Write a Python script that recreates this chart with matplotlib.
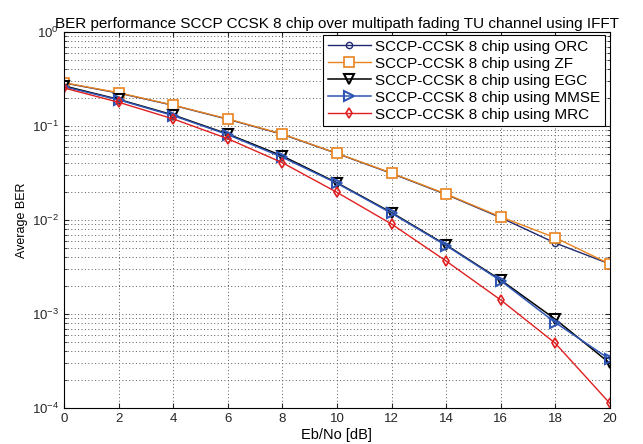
import matplotlib
matplotlib.use("Agg")
import matplotlib.pyplot as plt
import numpy as np

plt.rcParams['font.family'] = ['Liberation Sans', 'DejaVu Sans']

# Eb/No points
ebno = [0, 2, 4, 6, 8, 10, 12, 14, 16, 18, 20]

# BER values
ber_orc = [0.287, 0.224, 0.166, 0.118, 0.0815, 0.0510, 0.0313, 0.0187, 0.0106, 0.00569, 0.0034]
ber_zf = [0.289, 0.226, 0.167, 0.119, 0.0822, 0.0513, 0.0316, 0.0189, 0.0108, 0.00648, 0.0034]
ber_egc = [0.267, 0.192, 0.131, 0.0822, 0.0480, 0.0249, 0.0120, 0.00542, 0.00230, 0.00088, 0.000299]
ber_mmse = [0.262, 0.190, 0.129, 0.0810, 0.0465, 0.0246, 0.0118, 0.00535, 0.00226, 0.00081, 0.00033]
ber_mrc = [0.254, 0.179, 0.119, 0.0733, 0.0407, 0.0197, 0.00906, 0.00366, 0.00141, 0.000488, 0.000112]

labels = ['SCCP-CCSK 8 chip using ORC', 'SCCP-CCSK 8 chip using ZF',
          'SCCP-CCSK 8 chip using EGC', 'SCCP-CCSK 8 chip using MMSE',
          'SCCP-CCSK 8 chip using MRC']

fig = plt.figure(figsize=(6.43, 4.44), dpi=100)
ax = fig.add_axes([0.0995, 0.0811, 0.849, 0.8468])

ax.semilogy(ebno, ber_orc, color='#1f2a6e', marker='o', ms=4.5, mfc='none', lw=1.0, label=labels[0])
ax.semilogy(ebno, ber_zf, color='#e8831e', marker='s', ms=6.5, mfc='white', mew=1.2, lw=1.0, label=labels[1])
ax.semilogy(ebno, ber_egc, color='black', marker='v', ms=6.5, mfc='none', mew=1.5, lw=1.1, label=labels[2])
ax.semilogy(ebno, ber_mmse, color='#2f56b4', marker='>', ms=6.5, mfc='none', mew=1.5, lw=1.1, label=labels[3])
ax.semilogy(ebno, ber_mrc, color='#e02020', marker='d', ms=5.5, mfc='none', mew=1.2, lw=1.0, label=labels[4])

ax.set_xlim(0, 20)
ax.set_ylim(1e-4, 1)
ax.set_xticks(np.arange(0, 21, 2))
ax.grid(True, which='major', ls=(0, (1, 2.5)), color='0.35', lw=0.7)
ax.grid(True, which='minor', axis='y', ls=(0, (1, 2.5)), color='0.35', lw=0.7)
ax.tick_params(which='both', direction='in', labelsize=9.5, colors='0.15')
ax.tick_params(which='both', top=True, right=True)

ax.set_xlabel('Eb/No [dB]', fontsize=10.5, labelpad=2)
ax.set_ylabel('Average BER', fontsize=9, labelpad=3)
ax.set_title('BER performance SCCP CCSK 8 chip over multipath fading TU channel using IFFT',
             fontsize=11, pad=3)

leg = ax.legend(loc='upper right', bbox_to_anchor=(0.991, 0.992), borderaxespad=0,
                fontsize=11, fancybox=False, framealpha=1, edgecolor='black',
                handlelength=2.8, borderpad=0.3, labelspacing=0.2, handletextpad=0.3)
leg.get_frame().set_linewidth(0.8)

fig.savefig('out.png', dpi=100)
